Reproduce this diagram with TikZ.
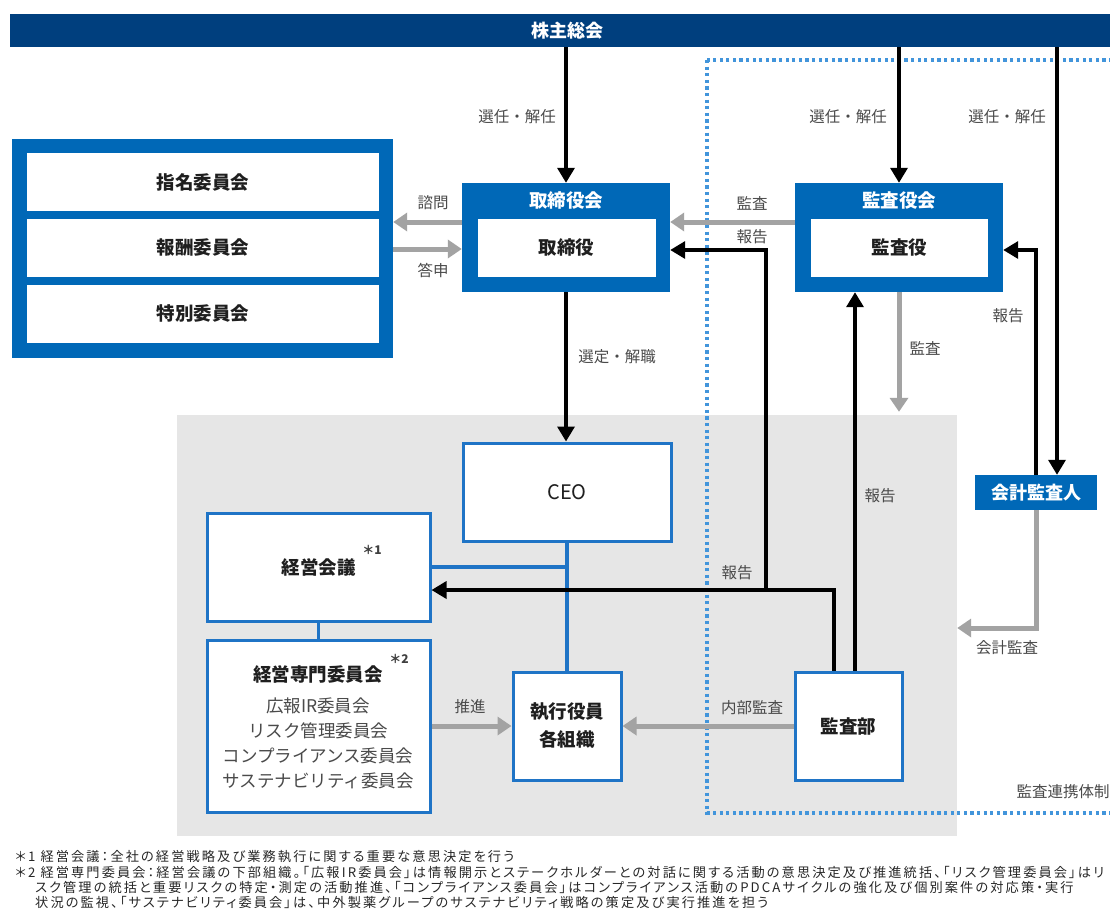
\documentclass[tikz,border=0pt]{standalone}
\usepackage{fontspec}
\setmainfont{Noto Sans CJK JP}
\newfontfamily\notefont[LetterSpace=16,RawFeature=+palt]{Noto Sans CJK JP}
\usetikzlibrary{arrows.meta}
\definecolor{navy}{HTML}{003F7E}
\definecolor{corpblue}{HTML}{0068B7}
\definecolor{lineblue}{HTML}{1F74C6}
\definecolor{dotblue}{HTML}{4295DB}
\definecolor{arrowgray}{HTML}{A3A3A3}
\definecolor{areagray}{HTML}{E6E6E6}
\definecolor{labelgray}{HTML}{4A4A4A}
\tikzset{
    >=Stealth,
    bigbox/.style={fill=corpblue,inner sep=0pt},
    innerbox/.style={fill=white,inner sep=0pt,font=\fontsize{18.5}{20}\selectfont\bfseries,text=black!88},
    unitbox/.style={draw=lineblue,line width=3pt,fill=white,inner sep=0pt,align=center,font=\fontsize{18.5}{28}\selectfont\bfseries,text=black!88},
    boxtitle/.style={text=white,font=\fontsize{18.5}{20}\selectfont\bfseries},
    edgelabel/.style={text=labelgray,font=\fontsize{15.5}{17}\selectfont},
    starmark/.style={text=black!75,font=\fontsize{12}{12}\selectfont\bfseries},
    blackarrow/.style={draw=black,line width=3.4pt,-{Triangle[length=15pt,width=17pt]}},
    grayarrow/.style={draw=arrowgray,line width=5pt,-{Triangle[length=14pt,width=18pt]}},
    blueline/.style={draw=lineblue,line width=3.4pt},
    note/.style={anchor=west,inner sep=0pt,text=black!85,font=\notefont\fontsize{13.2}{15}\selectfont},
}

\begin{document}
\begin{tikzpicture}[x=1pt,y=-1pt]
    \useasboundingbox (0,0) rectangle (1110,919);
    \node[fill=areagray,minimum width=780pt,minimum height=421pt,inner sep=0pt] (execarea) at (567,625.5) {};
    \draw[dotblue,line width=3.2pt,dash pattern=on 3.2pt off 3.4pt] (707,60) rectangle (1140,813);
    \node[fill=navy,minimum width=1114pt,minimum height=33pt,inner sep=0pt,text=white,font=\fontsize{18}{20}\selectfont\bfseries] (agm) at (567,30.5) {株主総会};

    % committees
    \node[bigbox,minimum width=381pt,minimum height=219pt] (cmt) at (202.5,248) {};
    \node[innerbox,minimum width=352pt,minimum height=58pt] (nomination) at (203,182) {指名委員会};
    \node[innerbox,minimum width=352pt,minimum height=58pt] (compensation) at (203,247.5) {報酬委員会};
    \node[innerbox,minimum width=352pt,minimum height=58pt] (special) at (203,313.5) {特別委員会};

    % board and auditors
    \node[bigbox,minimum width=208pt,minimum height=109pt] (board) at (566,237.5) {};
    \node[boxtitle] (boardttl) at (566,201) {取締役会};
    \node[innerbox,minimum width=178pt,minimum height=58pt] (directors) at (566.5,248) {取締役};
    \node[bigbox,minimum width=208pt,minimum height=109pt] (kab) at (899,237.5) {};
    \node[boxtitle] (kabttl) at (899,201) {監査役会};
    \node[innerbox,minimum width=177pt,minimum height=58pt] (auditors) at (899.5,248) {監査役};
    \node[bigbox,minimum width=122pt,minimum height=35pt,text=white,font=\fontsize{18}{20}\selectfont\bfseries] (cpa) at (1036,492.5) {会計監査人};

    % execution
    \node[unitbox,minimum width=208pt,minimum height=98pt,font=\fontsize{20}{22}\selectfont] (ceo) at (567,492) {CEO};
    \node[unitbox,minimum width=223pt,minimum height=108pt] (kaigi) at (318.5,567) {経営会議};
    \node[starmark] (kaiginote) at (372,550) {＊1};
    \node[unitbox,minimum width=223pt,minimum height=172pt] (senmon) at (318.5,726) {};
    \node[text=black!88,font=\fontsize{18.5}{20}\selectfont\bfseries] (senmonttl) at (318,674) {経営専門委員会};
    \node[starmark] (senmonnote) at (399,659) {＊2};
    \node[align=center,text=labelgray,font=\fontsize{17.5}{25}\selectfont] (senmonlist) at (318,743) {広報IR委員会\\リスク管理委員会\\コンプライアンス委員会\\サステナビリティ委員会};
    \node[unitbox,minimum width=108pt,minimum height=108pt] (shikko) at (567,726) {執行役員\\各組織};
    \node[unitbox,minimum width=107pt,minimum height=108pt] (kansabu) at (848.5,726) {監査部};

    % connectors
    \draw[blackarrow] (agm.south -| board.north) -- (board.north);
    \draw[blackarrow] (agm.south -| kab.north) -- (kab.north);
    \coordinate (cpain) at ([xshift=21pt]cpa.north);
    \draw[blackarrow] (agm.south -| cpain) -- (cpain);
    \draw[blackarrow] (cpa.north) |- ([yshift=-12.5pt]kab.east);
    \draw[grayarrow] (cpa.south) |- ([yshift=-2.5pt]execarea.east);
    \draw[grayarrow] ([yshift=15.5pt]board.west) -- ([yshift=15.5pt]board.west -| cmt.east);
    \draw[grayarrow] ([yshift=-11.5pt]board.west -| cmt.east) -- ([yshift=-11.5pt]board.west);
    \draw[grayarrow] ([yshift=15.5pt]kab.west) -- ([yshift=15.5pt]board.east);
    \draw[grayarrow] (kab.south) -- ([yshift=3pt]kab.south |- execarea.north);
    \draw[blackarrow] (board.south) -- (board.south |- ceo.north);
    \draw[blueline] (ceo.south) -- (ceo.south |- shikko.north);
    \draw[blueline] (kaigi.east) -- (kaigi.east -| ceo.south);
    \draw[blueline] (kaigi.south) -- (senmon.north);
    \coordinate (kbout) at ([xshift=-14.5pt]kansabu.north);
    \coordinate (kbup) at ([xshift=6.5pt]kansabu.north);
    \draw[blackarrow] (kbout) |- ([yshift=-23pt]kaigi.east);
    \coordinate (rptfork) at (766,590);
    \draw[blackarrow] (rptfork) |- ([yshift=-12.5pt]board.east);
    \draw[blackarrow] (kbup) -- (kbup |- kab.south);
    \draw[grayarrow] (senmon.east) -- (shikko.west);
    \draw[grayarrow] (kansabu.west) -- (shikko.east);

    % labels
    \node[edgelabel] (elect1) at (517,117) {選任・解任};
    \node[edgelabel] (elect2) at (848,117) {選任・解任};
    \node[edgelabel] (elect3) at (1007,117) {選任・解任};
    \node[edgelabel] (consult) at (433,203) {諮問};
    \node[edgelabel] (answer) at (433,270) {答申};
    \node[edgelabel] (audit1) at (752,203) {監査};
    \node[edgelabel] (report1) at (752,237) {報告};
    \node[edgelabel] (appoint) at (617,357) {選定・解職};
    \node[edgelabel] (audit2) at (925,348) {監査};
    \node[edgelabel] (report2) at (1008,316) {報告};
    \node[edgelabel] (report3) at (880,496) {報告};
    \node[edgelabel] (report4) at (737,573) {報告};
    \node[edgelabel] (acctaudit) at (1007,648) {会計監査};
    \node[edgelabel] (promote) at (470,707) {推進};
    \node[edgelabel] (internal) at (752,708) {内部監査};
    \node[edgelabel,anchor=west] (system) at (1013,792) {監査連携体制};

    % notes
    \node[note] (note1) at (15,857) {＊1 経営会議：全社の経営戦略及び業務執行に関する重要な意思決定を行う};
    \node[note] (note2) at (15,872) {＊2 経営専門委員会：経営会議の下部組織。「広報IR委員会」は情報開示とステークホルダーとの対話に関する活動の意思決定及び推進統括、「リスク管理委員会」はリ};
    \node[note] (note3) at (35,887) {スク管理の統括と重要リスクの特定・測定の活動推進、「コンプライアンス委員会」はコンプライアンス活動のPDCAサイクルの強化及び個別案件の対応策・実行};
    \node[note] (note4) at (35,902) {状況の監視、「サステナビリティ委員会」は、中外製薬グループのサステナビリティ戦略の策定及び実行推進を担う};
\end{tikzpicture}
\end{document}
